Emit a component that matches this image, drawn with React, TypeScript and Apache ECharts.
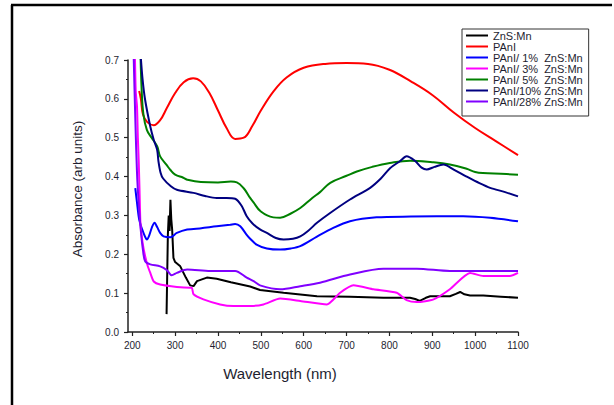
import React, { useEffect, useRef } from "react";
import * as echarts from "echarts";

const seriesNames = [
  "ZnS:Mn",
  "PAnI",
  "PAnI/ 1%  ZnS:Mn",
  "PAnI/ 3%  ZnS:Mn",
  "PAnI/ 5%  ZnS:Mn",
  "PAnI/10% ZnS:Mn",
  "PAnI/28% ZnS:Mn",
];
const seriesColors = ["#000000", "#ff0000", "#0000ff", "#ff00ff", "#008000", "#000080", "#8000ff"];

const xMajorTicks = [200, 300, 400, 500, 600, 700, 800, 900, 1000, 1100];
const xMinorTicks = [250, 350, 450, 550, 650, 750, 850, 950, 1050];

const znsMn = [
  [280, 0.046], [283, 0.25], [285, 0.3], [287, 0.26], [289, 0.34], [291, 0.29], [293, 0.264],
  [296, 0.191], [300, 0.18], [312, 0.169], [325, 0.14], [335, 0.12], [343, 0.118], [351, 0.131],
  [374, 0.14], [397, 0.137], [430, 0.128], [475, 0.117], [498, 0.108], [553, 0.101], [631, 0.092],
  [708, 0.091], [786, 0.088], [848, 0.088], [860, 0.085], [871, 0.08], [885, 0.088], [895, 0.092],
  [941, 0.092], [955, 0.098], [965, 0.103], [975, 0.097], [988, 0.094], [1019, 0.094], [1060, 0.091],
  [1100, 0.088],
];

const pani = [
  [216, 0.62], [220, 0.6], [225, 0.56], [235, 0.54], [250, 0.532], [265, 0.545], [280, 0.575],
  [300, 0.615], [320, 0.643], [342, 0.653], [360, 0.645], [380, 0.615], [400, 0.57], [420, 0.525],
  [440, 0.497], [460, 0.5], [480, 0.53], [500, 0.57], [530, 0.62], [560, 0.655], [600, 0.68],
  [650, 0.69], [700, 0.692], [750, 0.69], [800, 0.675], [850, 0.645], [900, 0.61], [950, 0.565],
  [1000, 0.525], [1050, 0.49], [1100, 0.455],
];

const pani1 = [
  [207, 0.37], [211, 0.333], [216, 0.29], [223, 0.264], [230, 0.245], [234, 0.238], [240, 0.25],
  [246, 0.27], [252, 0.281], [258, 0.27], [265, 0.255], [273, 0.246], [289, 0.244], [304, 0.255],
  [328, 0.264], [343, 0.265], [397, 0.272], [428, 0.276], [440, 0.278], [452, 0.272], [467, 0.25],
  [475, 0.24], [490, 0.225], [514, 0.215], [545, 0.212], [570, 0.215], [592, 0.221], [630, 0.245],
  [669, 0.268], [708, 0.285], [770, 0.295], [850, 0.297], [972, 0.298], [1035, 0.294], [1100, 0.285],
];

const pani3 = [
  [206, 0.72], [208, 0.62], [211, 0.58], [213, 0.5], [215, 0.44], [217, 0.36], [219, 0.281],
  [224, 0.23], [230, 0.195], [236, 0.17], [242, 0.152], [250, 0.13], [265, 0.122], [304, 0.116],
  [335, 0.114], [339, 0.114], [343, 0.097], [366, 0.084], [405, 0.071], [436, 0.067], [475, 0.067],
  [506, 0.071], [545, 0.086], [592, 0.08], [654, 0.071], [685, 0.101], [716, 0.12], [763, 0.11],
  [817, 0.101], [840, 0.082], [864, 0.077], [903, 0.084], [941, 0.11], [988, 0.152], [1019, 0.144],
  [1081, 0.144], [1100, 0.152],
];

const pani5 = [
  [219, 0.72], [222, 0.62], [226, 0.56], [234, 0.52], [245, 0.5], [258, 0.478], [265, 0.452],
  [280, 0.43], [289, 0.417], [300, 0.405], [319, 0.397], [328, 0.392], [360, 0.386], [400, 0.385],
  [430, 0.387], [444, 0.385], [460, 0.37], [475, 0.345], [482, 0.335], [500, 0.31], [529, 0.295],
  [545, 0.294], [570, 0.305], [592, 0.319], [620, 0.345], [638, 0.36], [662, 0.384], [700, 0.402],
  [724, 0.413], [760, 0.425], [801, 0.435], [848, 0.441], [900, 0.437], [941, 0.431], [980, 0.42],
  [1000, 0.412], [1018, 0.409], [1060, 0.407], [1100, 0.405],
];

const pani10 = [
  [219, 0.72], [224, 0.65], [230, 0.597], [242, 0.529], [250, 0.495], [258, 0.469], [261, 0.44],
  [266, 0.41], [272, 0.395], [290, 0.375], [304, 0.366], [343, 0.358], [370, 0.35], [397, 0.345],
  [420, 0.345], [440, 0.343], [455, 0.325], [467, 0.298], [480, 0.28], [498, 0.264], [514, 0.255],
  [535, 0.242], [553, 0.238], [575, 0.24], [592, 0.246], [610, 0.26], [631, 0.281], [660, 0.305],
  [708, 0.341], [755, 0.371], [780, 0.395], [802, 0.422], [825, 0.44], [840, 0.452], [860, 0.44],
  [875, 0.423], [887, 0.418], [905, 0.425], [926, 0.431], [950, 0.418], [980, 0.4], [1010, 0.383],
  [1035, 0.371], [1070, 0.36], [1100, 0.349],
];

const pani28 = [
  [203, 0.72], [207, 0.55], [211, 0.41], [215, 0.33], [219, 0.272], [225, 0.21], [230, 0.182],
  [242, 0.174], [265, 0.169], [281, 0.159], [292, 0.146], [304, 0.152], [328, 0.161], [382, 0.157],
  [440, 0.157], [467, 0.14], [483, 0.131], [498, 0.12], [545, 0.11], [592, 0.118], [638, 0.127],
  [708, 0.148], [786, 0.163], [864, 0.163], [941, 0.157], [1020, 0.157], [1100, 0.157],
];

const allData = [znsMn, pani, pani1, pani3, pani5, pani10, pani28];
const smoothing = [0, 0.4, 0.3, 0.2, 0.4, 0.3, 0.3];

const TEXT = "#1e1e30";
const FONT = "Liberation Sans, Arial, sans-serif";

export default function App() {
  const ref = useRef<HTMLDivElement>(null);
  useEffect(() => {
    if (!ref.current) return;
    const chart = echarts.init(ref.current, undefined, { renderer: "svg" });
    chart.setOption({
      animation: false,
      backgroundColor: "#ffffff",
      textStyle: { fontFamily: FONT },
      grid: { left: 128, right: 96, top: 60, bottom: 73, containLabel: false },
      legend: {
        orient: "vertical",
        left: 462,
        top: 29,
        padding: [1, 6, 9, 4],
        itemGap: 0,
        itemWidth: 22,
        itemHeight: 2,
        icon: "rect",
        borderColor: "#333",
        borderWidth: 1,
        selectedMode: false,
        textStyle: { fontSize: 11, lineHeight: 10, color: TEXT, fontFamily: FONT },
        data: seriesNames,
      },
      xAxis: [
        {
          type: "value",
          min: 190,
          max: 1100,
          position: "bottom",
          axisLine: { show: true, lineStyle: { color: "#222", width: 1.5 } },
          axisTick: { show: true, customValues: xMajorTicks, length: 4, lineStyle: { color: "#222", width: 1.2 } },
          axisLabel: {
            customValues: xMajorTicks,
            fontSize: 10,
            color: TEXT,
            margin: 8,
            fontFamily: FONT,
            formatter: (v: number) => String(v),
          },
          splitLine: { show: false },
        },
        {
          type: "value",
          min: 190,
          max: 1100,
          position: "bottom",
          axisLine: { show: false },
          axisTick: { show: true, customValues: xMinorTicks, length: 2, lineStyle: { color: "#222", width: 1 } },
          axisLabel: { show: false },
          splitLine: { show: false },
        },
      ],
      yAxis: {
        type: "value",
        min: 0,
        max: 0.7,
        interval: 0.1,
        axisLine: { show: true, lineStyle: { color: "#222", width: 1.5 } },
        axisTick: { show: true, length: 4, lineStyle: { color: "#222", width: 1.2 } },
        minorTick: { show: true, splitNumber: 2, length: 2, lineStyle: { color: "#222", width: 1 } },
        axisLabel: {
          fontSize: 10,
          color: TEXT,
          margin: 9,
          fontFamily: FONT,
          formatter: (v: number) => v.toFixed(1),
        },
        splitLine: { show: false },
      },
      series: allData.map((d, i) => ({
        name: seriesNames[i],
        type: "line",
        data: d,
        xAxisIndex: 0,
        showSymbol: false,
        symbol: "none",
        smooth: smoothing[i],
        clip: true,
        color: seriesColors[i],
        lineStyle: { color: seriesColors[i], width: 2 },
        emphasis: { disabled: true },
      })),
      graphic: [
        { type: "line", shape: { x1: 12, y1: 5, x2: 12, y2: 405 }, style: { stroke: "#000", lineWidth: 2.5 } },
        { type: "line", shape: { x1: 11, y1: 5, x2: 612, y2: 5 }, style: { stroke: "#000", lineWidth: 2.5 } },
        {
          type: "text",
          x: 280,
          y: 373,
          style: {
            text: "Wavelength (nm)",
            fontSize: 15,
            fontFamily: FONT,
            fill: TEXT,
            align: "center",
            verticalAlign: "middle",
          },
        },
        {
          type: "text",
          x: 77,
          y: 189,
          rotation: Math.PI / 2,
          style: {
            text: "Absorbance (arb units)",
            fontSize: 13.5,
            fontFamily: FONT,
            fill: TEXT,
            align: "center",
            verticalAlign: "middle",
          },
        },
      ],
    });
    return () => chart.dispose();
  }, []);
  return <div ref={ref} style={{ width: 614, height: 405, position: "absolute", left: 0, top: 0 }} />;
}
